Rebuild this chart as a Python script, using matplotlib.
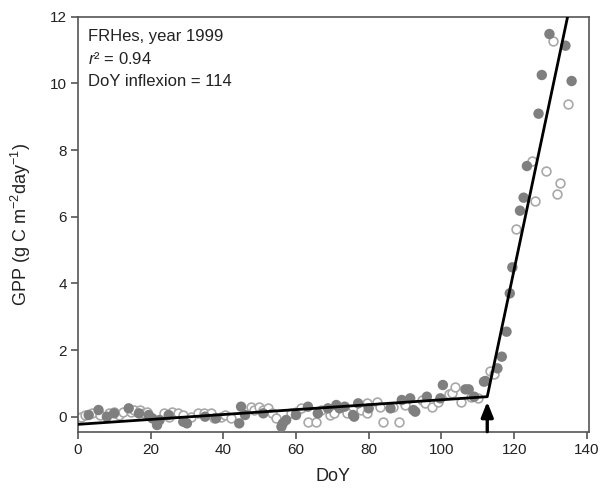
import numpy as np
import matplotlib
matplotlib.use('Agg')
import matplotlib.pyplot as plt

plt.rcParams['font.family'] = ['Liberation Sans', 'DejaVu Sans']
plt.rcParams['mathtext.fontset'] = 'custom'
plt.rcParams['mathtext.rm'] = 'Liberation Sans'
plt.rcParams['mathtext.it'] = 'Liberation Sans:italic'

######################
# Data
# filled circles
doy_filled = [3, 5.7, 8, 10, 14, 16.8, 19.5, 20.5, 21.8, 22.5, 25, 29, 30, 35, 38,
              44.4, 44.9, 46, 51, 56, 56.4, 57.3, 60, 63.3, 66, 68.8,
              71.1, 72, 73.4, 75.7, 76, 77.1, 80, 86, 89.1, 91.4, 92.3, 92.8, 96, 99.7, 100.4,
              106.6, 107.5, 109, 111.7, 112.1,
              115.4, 116.6, 117.9, 118.8, 119.5, 121.6, 122.6, 123.5, 126.7, 127.6, 129.7, 134.1, 135.8]
gpp_filled = [0.05, 0.2, 0.0, 0.1, 0.25, 0.1, 0.05, -0.05, -0.25, -0.1, 0.05, -0.15, -0.2, 0.0, -0.05,
              -0.2, 0.3, 0.05, 0.1, -0.3, -0.2, -0.1, 0.05, 0.3, 0.1, 0.25,
              0.35, 0.25, 0.3, 0.05, 0.0, 0.4, 0.25, 0.25, 0.5, 0.55, 0.2, 0.15, 0.6, 0.55, 0.95,
              0.82, 0.82, 0.6, 1.05, 1.07,
              1.45, 1.8, 2.55, 3.7, 4.48, 6.18, 6.57, 7.52, 9.09, 10.25, 11.48, 11.13, 10.07]

# open circles
doy_open = [1, 2, 3.9, 6, 8.5, 10, 11.2, 12.5, 14.5, 15.4, 17, 18.1, 19, 23.7, 25, 26, 27.5,
            29, 31, 33, 34.7, 36.6, 37.5, 39.3, 40.5, 42.1, 47.6, 48.5, 49.9, 51, 52.2, 53.5,
            54.5, 58.7, 60, 61.5, 63.3, 65.6, 67, 69.3, 70.5, 74, 78, 79.4, 79.4, 82.2, 83, 84,
            86.8, 88.2, 90, 94.6, 95.5, 97.4, 99, 102, 102.9, 103.7, 105.5, 108, 110,
            113.3, 114.5, 120.6, 124.8, 125.8, 128.7, 130.6, 131.7, 132.7, 134.8]
gpp_open = [0.0, 0.05, 0.1, 0.05, 0.1, 0.15, 0.05, 0.15, 0.15, 0.2, 0.2, 0.1, 0.15, 0.1, 0.0, 0.15, 0.1,
            0.05, 0.0, 0.1, 0.1, 0.1, -0.05, 0.0, 0.05, -0.05, 0.3, 0.2, 0.3, 0.2, 0.25, 0.1,
            -0.05, 0.1, 0.15, 0.25, -0.15, -0.15, 0.2, 0.05, 0.1, 0.1, 0.2, 0.4, 0.1, 0.45, 0.3, -0.15,
            0.3, -0.15, 0.35, 0.5, 0.4, 0.3, 0.45, 0.67, 0.7, 0.9, 0.45, 0.6, 0.55,
            1.37, 1.28, 5.62, 7.68, 6.47, 7.38, 11.28, 6.68, 7.0, 9.37]

# piecewise linear fit
fit_doy = [0, 112.6, 134.7]
fit_gpp = [-0.23, 0.6, 12.0]
arrow_doy = 112.6

######################
# Plot
fig = plt.figure(figsize=(6.03, 4.92), dpi=100)
ax = fig.add_axes([0.129, 0.1226, 0.8473, 0.8435])

ax.scatter(doy_open, gpp_open, s=40, facecolors='white', edgecolors='#a8a8a8',
           linewidths=1.2, zorder=2)
ax.scatter(doy_filled, gpp_filled, s=56, color='#7f7f7f', edgecolors='none', zorder=3)
ax.plot(fit_doy, fit_gpp, color='black', lw=2, zorder=4, solid_capstyle='butt')

ax.annotate('', xy=(arrow_doy, 0.45), xytext=(arrow_doy, -0.45),
            arrowprops=dict(arrowstyle='-|>,head_width=0.36,head_length=0.9',
                            color='black', lw=2.4, mutation_scale=10,
                            shrinkA=0, shrinkB=0), zorder=5)

ax.set_xlim(0, 140.5)
ax.set_ylim(-0.45, 12)
ax.set_xticks(np.arange(0, 141, 20))
ax.set_yticks(np.arange(0, 13, 2))

for sp in ax.spines.values():
    sp.set_color('#555555')
    sp.set_linewidth(1.2)
ax.tick_params(direction='out', length=5, width=1.2, color='#555555',
               labelsize=11, labelcolor='#222222', pad=3)

ax.set_xlabel('DoY', fontsize=13, color='#222222', labelpad=8)
ax.set_ylabel('GPP (g C m$^{-2}$day$^{-1}$)', fontsize=13, color='#222222', labelpad=12)

ax.text(0.02, 0.952, 'FRHes, year 1999', transform=ax.transAxes, fontsize=12,
        color='#222222', va='center')
ax.text(0.02, 0.897, '$r$\u00b2 = 0.94', transform=ax.transAxes, fontsize=12,
        color='#222222', va='center')
ax.text(0.02, 0.845, 'DoY inflexion = 114', transform=ax.transAxes, fontsize=12,
        color='#222222', va='center')

fig.savefig('out.png', dpi=100)
